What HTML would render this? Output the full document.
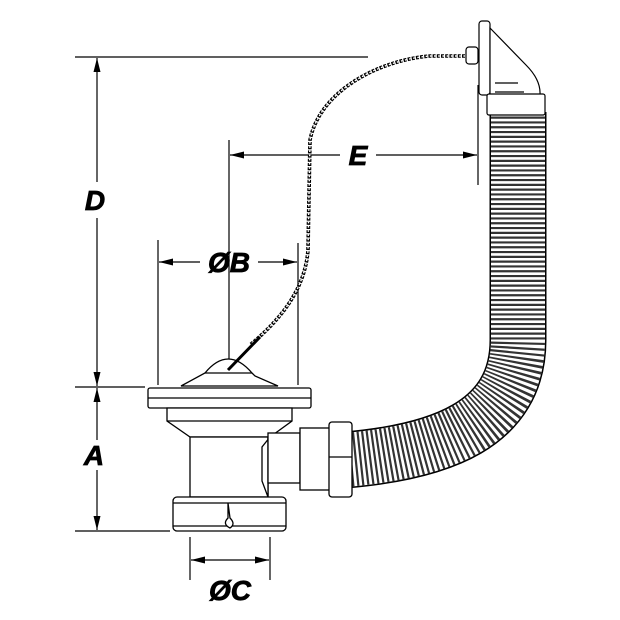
<!DOCTYPE html>
<html><head><style>body{margin:0;background:#fff}svg{display:block}</style></head><body>
<svg width="620" height="620" viewBox="0 0 620 620" xmlns="http://www.w3.org/2000/svg">
<defs>
<marker id="a" viewBox="0 0 14 10" refX="14" refY="5" markerWidth="14" markerHeight="10" markerUnits="userSpaceOnUse" orient="auto-start-reverse"><path d="M0,1.5L14,5L0,8.5z" fill="#000"/></marker>
</defs>
<g stroke="#000" stroke-width="1.2" fill="none">
<line x1="75" y1="57" x2="368" y2="57"/>
<line x1="75" y1="387" x2="145" y2="387"/>
<line x1="75" y1="531" x2="170" y2="531"/>
<line x1="158" y1="240" x2="158" y2="385"/>
<line x1="298" y1="243" x2="298" y2="385"/>
<line x1="229" y1="140" x2="229" y2="362"/>
<line x1="478" y1="85" x2="478" y2="185"/>
<line x1="190" y1="537" x2="190" y2="580"/>
<line x1="270" y1="537" x2="270" y2="580"/>
<line x1="97" y1="58" x2="97" y2="182" marker-start="url(#a)"/>
<line x1="97" y1="218" x2="97" y2="386" marker-end="url(#a)"/>
<line x1="97" y1="388" x2="97" y2="440" marker-start="url(#a)"/>
<line x1="97" y1="470" x2="97" y2="530" marker-end="url(#a)"/>
<line x1="159" y1="262" x2="200" y2="262" marker-start="url(#a)"/>
<line x1="258" y1="262" x2="297" y2="262" marker-end="url(#a)"/>
<line x1="230" y1="155" x2="340" y2="155" marker-start="url(#a)"/>
<line x1="376" y1="155" x2="477" y2="155" marker-end="url(#a)"/>
<line x1="191" y1="560" x2="269" y2="560" marker-start="url(#a)" marker-end="url(#a)"/>
</g>
<g font-family="Liberation Sans, sans-serif" font-weight="bold" font-style="italic" font-size="28" text-anchor="middle" stroke="#000" stroke-width="0.8">
<text x="95" y="210">D</text>
<text x="94" y="465">A</text>
<text x="229" y="272">ØB</text>
<text x="358" y="165">E</text>
<text x="230" y="600">ØC</text>
</g>
<path d="M345,460 C440,452 518,425 518,340 L518,112" stroke="#000" stroke-width="57" fill="none"/>
<path d="M345,460 C440,452 518,425 518,340 L518,112" stroke="#fff" stroke-width="54" fill="none"/>
<path d="M345,460 C440,452 518,425 518,340 L518,112" stroke="#333" stroke-width="54" fill="none" stroke-dasharray="2.2 2.6"/>
<g stroke="#000" stroke-width="1.2" fill="#fff">
<rect x="479" y="21" width="11" height="74" rx="3"/>
<path d="M490,28 L526,65 Q541,80 540,95 L490,95z"/>
<rect x="487" y="94" width="58" height="21" rx="2"/>
<line x1="495" y1="83" x2="518" y2="83"/>
<line x1="495" y1="92" x2="524" y2="92"/>
<rect x="466" y="47" width="12" height="17" rx="3"/>
</g>
<path d="M465,56 L430,56 C380,60 320,90 310,140 L308,250 C305,290 280,320 250,345" stroke="#000" stroke-width="3.6" fill="none" stroke-dasharray="3 1.2"/>
<path d="M465,56 L430,56 C380,60 320,90 310,140 L308,250 C305,290 280,320 250,345" stroke="#fff" stroke-width="1.4" fill="none" stroke-dasharray="1.6 2.6"/>
<g stroke="#000" stroke-width="1.3" fill="#fff">
<path d="M205,373 Q228,345 252,373 L255,376 L278,386 L181,386z"/>
<line x1="205" y1="373" x2="252" y2="373"/>
<line x1="228" y1="370" x2="260" y2="337" stroke-width="3"/>
<rect x="148" y="388" width="163" height="20" rx="2"/>
<line x1="148" y1="398" x2="311" y2="398"/>
<path d="M167,408 L292,408 L292,421 L270,437 L190,437 L167,421z"/>
<line x1="167" y1="421" x2="292" y2="421"/>
<rect x="190" y="437" width="78" height="60"/>
<path d="M270,437 L262,447 L262,481 L268,497 L268,437"/>
<rect x="268" y="433" width="32" height="50"/>
<rect x="300" y="428" width="30" height="62"/>
<rect x="329" y="422" width="23" height="75" rx="3"/>
<line x1="329" y1="457" x2="352" y2="457"/>
<rect x="173" y="497" width="113" height="34" rx="4"/>
<line x1="173" y1="503" x2="286" y2="503"/>
<line x1="173" y1="526" x2="286" y2="526"/>
<path d="M228,503 L228,518 Q222,524 230,528 Q236,524 230,518z" fill="#fff"/>
</g>
</svg>
</body></html>
